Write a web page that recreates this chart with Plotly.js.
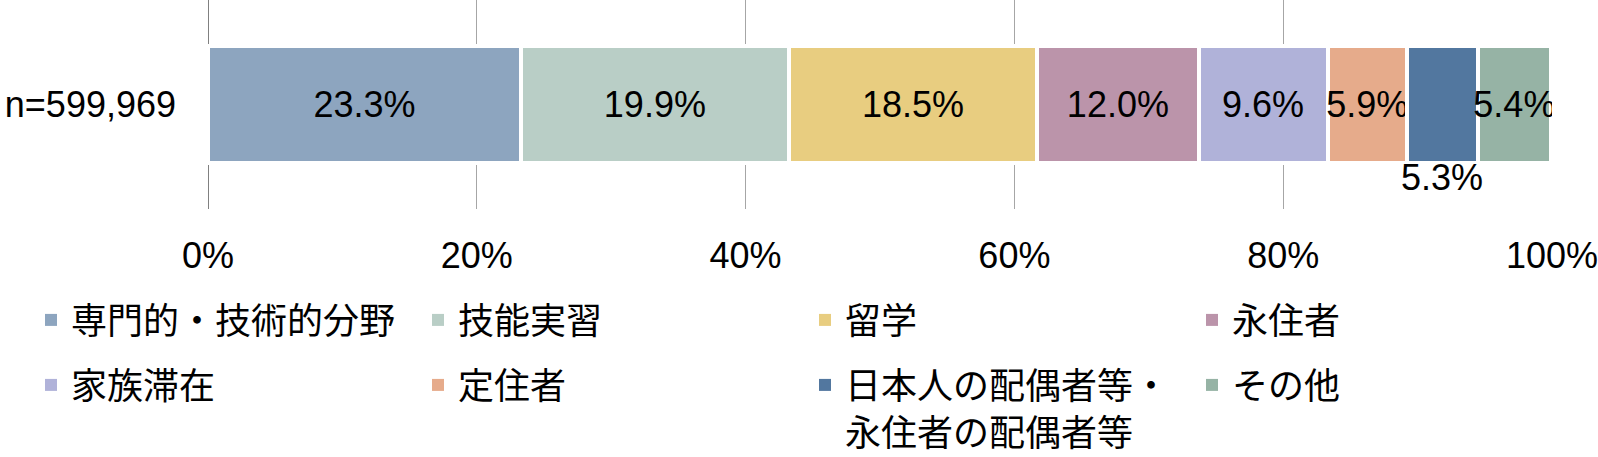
<!DOCTYPE html>
<html>
<head>
<meta charset="utf-8">
<script src="https://cdn.plot.ly/plotly-3.0.1.min.js"></script>
<style>body{margin:0;background:#fff}</style>
</head>
<body>
<div id="chart" style="width:1598px;height:457px"></div>
<script>
// 在留資格別の構成比 (n=599,969)
var category = 'n=599,969';
var labels = ['専門的・技術的分野', '技能実習', '留学', '永住者',
              '家族滞在', '定住者', '日本人の配偶者等・<br>永住者の配偶者等', 'その他'];
var shares = [23.3, 19.9, 18.5, 12.0, 9.6, 5.9, 5.3, 5.4];
var colors = ['#8da5bf', '#b9cec6', '#e8cd80', '#bb94aa',
              '#b0b2d9', '#e6ab8b', '#52779f', '#96b3a5'];
var tickValues = [0, 20, 40, 60, 80, 100];
var underBar = 6;   // this segment's label is printed below the bar

var numFont = 'Liberation Sans, Arial, sans-serif';
var jpFont = 'Noto Sans CJK JP, sans-serif';

// the stacked bar itself (white outline makes the gaps between segments)
var traces = shares.map(function(v, i) {
    return {
        type: 'bar',
        orientation: 'h',
        x: [v],
        y: [category],
        name: labels[i],
        showlegend: false,
        marker: {color: colors[i], line: {color: '#fff', width: 4}},
        text: [v.toFixed(1) + '%'],
        textposition: i === underBar ? 'none' : 'inside',
        insidetextanchor: 'middle',
        textangle: 0,
        constraintext: 'none',
        insidetextfont: {family: numFont, size: 36, color: '#000'},
        hoverinfo: 'skip'
    };
});

// legend entries without the white outline (zero-length, so nothing is drawn)
labels.forEach(function(name, i) {
    traces.push({
        type: 'bar',
        orientation: 'h',
        x: [0],
        y: [category],
        name: name,
        legend: i < 4 ? 'legend' : 'legend2',
        marker: {color: colors[i], line: {width: 0}},
        textposition: 'none',
        hoverinfo: 'skip'
    });
});

// centre of the segment whose label goes under the bar
var start = 0;
for (var j = 0; j < underBar; j++) start += shares[j];

function legendAt(y) {
    return {
        orientation: 'h',
        x: -0.1317, xanchor: 'left',
        y: y, yanchor: 'top',
        entrywidth: 342,
        traceorder: 'normal',
        valign: 'top',
        itemclick: false, itemdoubleclick: false,
        bgcolor: 'rgba(0,0,0,0)',
        font: {family: jpFont, size: 36, color: '#000'}
    };
}

var layout = {
    width: 1598,
    height: 457,
    margin: {l: 208, r: 46, t: 0, b: 248, autoexpand: false},
    paper_bgcolor: '#fff',
    plot_bgcolor: '#fff',
    barmode: 'stack',
    bargap: 0.44,
    font: {family: numFont, color: '#000'},
    xaxis: {
        range: [0, 100],
        tickvals: tickValues,
        ticktext: tickValues.map(function(t) { return t + '%'; }),
        showgrid: true,
        gridcolor: '#a6a6a6',
        gridwidth: 1,
        zeroline: true,
        zerolinecolor: '#808080',
        zerolinewidth: 1,
        showline: false,
        ticks: '',
        ticklabelstandoff: 22,
        ticklabeloverflow: 'allow',
        tickfont: {family: numFont, size: 36, color: '#000'},
        fixedrange: true
    },
    yaxis: {
        type: 'category',
        showgrid: false,
        zeroline: false,
        showline: false,
        ticks: '',
        ticklabelstandoff: 31,
        tickfont: {family: numFont, size: 36, color: '#000'},
        fixedrange: true
    },
    legend: legendAt(-0.3876),
    legend2: legendAt(-0.6986),
    annotations: [{
        x: start + shares[underBar] / 2,
        y: category,
        xref: 'x', yref: 'y',
        text: shares[underBar].toFixed(1) + '%',
        showarrow: false,
        yshift: -73,
        font: {family: numFont, size: 36, color: '#000'}
    }],
    showlegend: true
};

Plotly.newPlot('chart', traces, layout, {displayModeBar: false, staticPlot: true});
</script>
</body>
</html>
